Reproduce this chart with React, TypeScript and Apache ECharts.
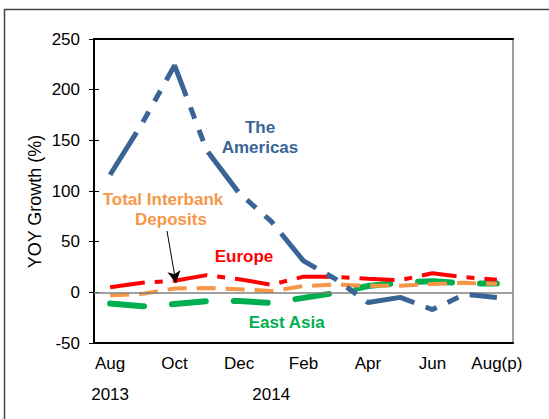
import React, { useEffect, useRef } from "react";
import * as echarts from "echarts";

const months = ["Aug", "Sep", "Oct", "Nov", "Dec", "Jan", "Feb", "Mar", "Apr", "May", "Jun", "Jul", "Aug(p)"];
const yearLabels = ["2013", "", "", "", "", "2014", "", "", "", "", "", "", ""];

const theAmericas = [116, 167, 224, 140, 98, 70, 31, 13, -10, -5, -17, -2, -5];
const europe = [5, 9.5, 11.5, 17, 13, 7.5, 15.5, 15.3, 13.3, 12, 18.8, 15, 12.5];
const interbank = [-3, -1.5, 3.8, 4.3, 3.1, 1.2, 6.2, 7.6, 6.6, 6.6, 8.3, 9.4, 8.5];
const eastAsia = [-11, -13.8, -11.5, -8.8, -8.6, -10.4, -5.5, -0.5, 6.2, 9.5, 11, 8.7, 8.7];

const FONT = "Arial, 'Liberation Sans', sans-serif";
const BLUE = "#3A6496";
const RED = "#FF0000";
const ORANGE = "#F79646";
const GREEN = "#00B050";

export default function App() {
  const ref = useRef<HTMLDivElement>(null);

  useEffect(() => {
    if (!ref.current) return;
    const chart = echarts.init(ref.current, undefined, { renderer: "svg" });
    const tickLine = { color: "#000", width: 1 };
    const annot = (text: string, x: number, y: number, fill: string) => ({
      type: "text",
      silent: true,
      style: {
        text,
        x,
        y,
        fill,
        fontSize: 17,
        fontWeight: "bold",
        fontFamily: FONT,
        align: "center",
        verticalAlign: "middle",
      },
      z: 100,
    });

    chart.setOption({
      animation: false,
      backgroundColor: "#fff",
      grid: {
        left: 94,
        right: 36,
        top: 39,
        bottom: 76,
        show: true,
        borderColor: "#808080",
        borderWidth: 1.5,
        containLabel: false,
      },
      xAxis: [
        {
          type: "category",
          data: months,
          position: "bottom",
          boundaryGap: true,
          axisLine: { onZero: false, lineStyle: { color: "#000", width: 2 } },
          axisTick: { alignWithLabel: true, interval: 0, length: 5, lineStyle: tickLine },
          axisLabel: { interval: 1, margin: 12, color: "#000", fontSize: 17, fontFamily: FONT },
          splitLine: { show: false },
        },
        {
          type: "category",
          data: months,
          position: "bottom",
          boundaryGap: true,
          axisLine: { show: false, onZero: false },
          axisTick: { inside: true, alignWithLabel: true, interval: 0, length: 4, lineStyle: tickLine },
          axisLabel: {
            interval: 0,
            margin: 43,
            color: "#000",
            fontSize: 17,
            fontFamily: FONT,
            formatter: (_v: string, i: number) => yearLabels[i],
          },
          splitLine: { show: false },
        },
        {
          type: "category",
          data: months,
          position: "top",
          boundaryGap: true,
          axisLine: { onZero: false, lineStyle: { color: "#000", width: 2 } },
          axisTick: { show: false },
          axisLabel: { show: false },
          splitLine: { show: false },
        },
      ],
      yAxis: [
        {
          type: "value",
          min: -50,
          max: 250,
          interval: 50,
          position: "left",
          axisLine: { show: true, lineStyle: { color: "#000", width: 2 } },
          axisTick: { show: true, length: 5, lineStyle: tickLine },
          axisLabel: { margin: 14, color: "#000", fontSize: 17, fontFamily: FONT },
          splitLine: { show: false },
        },
        {
          type: "value",
          min: -50,
          max: 250,
          interval: 50,
          position: "left",
          axisLine: { show: false },
          axisTick: { show: true, inside: true, length: 5, lineStyle: tickLine },
          axisLabel: { show: false },
          splitLine: { show: false },
        },
      ],
      series: [
        {
          type: "line",
          data: [],
          z: 1,
          markLine: {
            silent: true,
            symbol: "none",
            label: { show: false },
            lineStyle: { color: "#808080", width: 1.5, type: "solid" },
            data: [{ yAxis: 0 }],
          },
        },
        {
          name: "East Asia",
          type: "line",
          data: eastAsia,
          symbol: "none",
          z: 2,
          lineStyle: { color: GREEN, width: 6, type: [34, 28], cap: "round", join: "round" },
        },
        {
          name: "Europe",
          type: "line",
          data: europe,
          symbol: "none",
          z: 3,
          lineStyle: { color: RED, width: 4, type: [35, 10, 8, 10], cap: "butt" },
        },
        {
          name: "Total Interbank Deposits",
          type: "line",
          data: interbank,
          symbol: "none",
          z: 4,
          lineStyle: { color: ORANGE, width: 4, type: [19, 10], cap: "butt" },
        },
        {
          name: "The Americas",
          type: "line",
          data: theAmericas,
          symbol: "none",
          z: 5,
          lineStyle: { color: BLUE, width: 5, type: [50, 12, 12, 12, 12, 12], cap: "butt" },
          markLine: {
            silent: true,
            symbol: ["none", "arrow"],
            symbolSize: [10, 12],
            label: { show: false },
            lineStyle: { color: "#000", width: 1, type: "solid" },
            data: [[{ x: 167, y: 231 }, { x: 176, y: 283 }]],
          },
        },
      ],
      graphic: [
        {
          type: "rect",
          silent: true,
          shape: { x: 4.5, y: 9.5, width: 700, height: 600 },
          style: { fill: "none", stroke: "#444", lineWidth: 1.5 },
          z: 100,
        },
        {
          type: "text",
          silent: true,
          x: 35,
          y: 201.5,
          rotation: Math.PI / 2,
          style: {
            text: "YOY Growth (%)",
            fill: "#000",
            fontSize: 18,
            fontFamily: FONT,
            align: "center",
            verticalAlign: "middle",
          },
          z: 100,
        },
        annot("The", 260, 127, BLUE),
        annot("Americas", 260, 147, BLUE),
        annot("Total Interbank", 163, 199.3, ORANGE),
        annot("Deposits", 171, 219.3, ORANGE),
        annot("Europe", 244, 256.7, RED),
        annot("East Asia", 286.7, 322.7, GREEN),
      ],
    });

    return () => chart.dispose();
  }, []);

  return (
    <div
      ref={ref}
      style={{ position: "fixed", left: 0, top: 0, width: 549, height: 419, background: "#fff" }}
    />
  );
}
